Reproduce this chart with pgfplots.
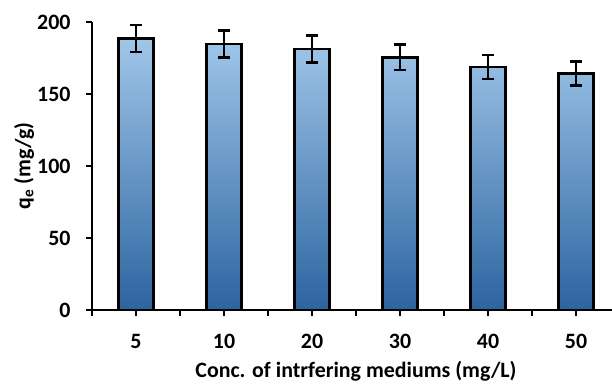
\documentclass[border=0pt]{standalone}
\usepackage{pgfplots}
\pgfplotsset{compat=1.18}
\usepackage{fontspec}
\setmainfont{Carlito}
\definecolor{bartop}{RGB}{160,198,233}
\definecolor{barmid}{RGB}{98,156,212}
\definecolor{barbot}{RGB}{44,100,160}
\begin{document}
\begin{tikzpicture}
\useasboundingbox (-92bp,-75bp) rectangle (520bp,310bp);
\begin{axis}[
  at={(0,0)}, anchor=south west,
  scale only axis, width=528bp, height=288bp,
  xmin=-0.5, xmax=5.5, ymin=0, ymax=200,
  axis x line=bottom, axis y line=left,
  axis line style={-, line width=2bp, black},
  xtick={0,1,2,3,4,5},
  xticklabels={5,10,20,30,40,50},
  minor xtick={-0.5,0.5,1.5,2.5,3.5,4.5,5.5},
  ytick={0,50,100,150,200},
  tick align=outside,
  major tick length=6bp, minor tick length=6bp,
  every tick/.style={line width=2bp, black},
  minor tick style={line width=2bp, black},
  /pgf/number format/assume math mode=true,
  tick label style={font=\fontsize{22}{26}\selectfont\bfseries},
  xticklabel style={anchor=center, yshift=-25bp},
  yticklabel style={anchor=east, xshift=-12bp},
  xlabel={Conc. of intrfering mediums (mg/L)},
  ylabel={q\textsubscript{e} (mg/g)},
  label style={font=\fontsize{22}{26}\selectfont\bfseries},
  xlabel style={at={(axis description cs:0.5,-0.2118)}, anchor=center},
  ylabel style={at={(axis description cs:-0.1288,0.5)}, anchor=center},
  clip=false,
]
\addplot[ybar, bar width=0.4, draw=black, line width=2.5bp,
  top color=bartop, middle color=barmid, bottom color=barbot,
  error bars/.cd, y dir=both, y explicit,
  error bar style={line width=2.2bp, black},
  error mark options={rotate=90, mark size=6bp, line width=2.5bp, black}]
  coordinates {
  (0,188.5) +- (0,9.5)
  (1,184.7) +- (0,9.4)
  (2,181.2) +- (0,9.4)
  (3,175.5) +- (0,8.9)
  (4,168.7) +- (0,8.4)
  (5,164.2) +- (0,8.4)
  };
\end{axis}
\end{tikzpicture}
\end{document}
